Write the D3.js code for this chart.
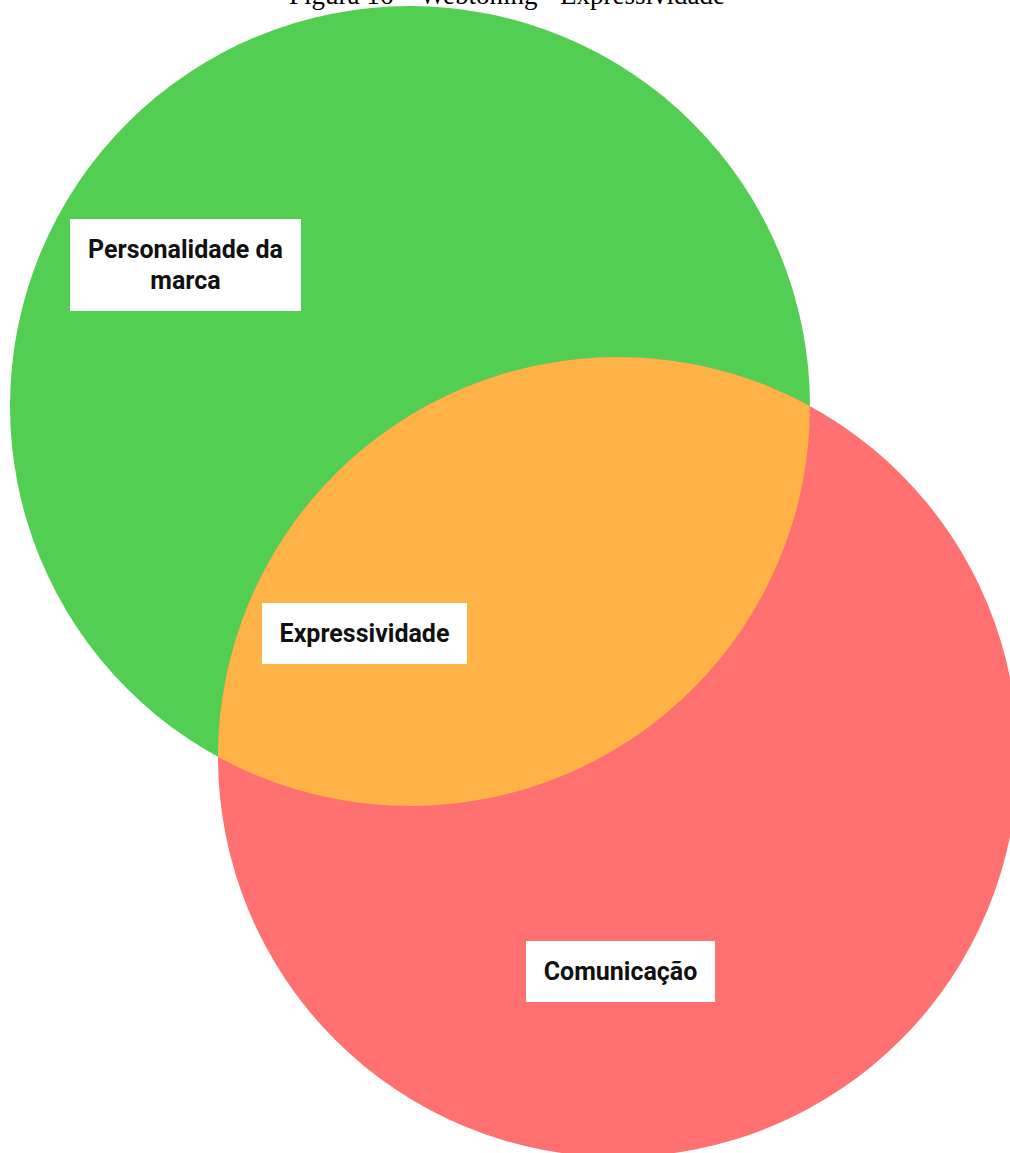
<!DOCTYPE html>
<html><head><meta charset="utf-8">
<script src="https://cdn.jsdelivr.net/npm/d3@7"></script>
<style>body{margin:0;background:#fff}svg{display:block}</style>
</head><body>
<script>
const titleText = "Figura 16 – Webtoning - Expressividade";
const setNames = ["Personalidade da marca", "Comunicação"];
const setColors = ["#52cf52", "#ff7070"];
const overlapName = "Expressividade";
const overlapColor = "#ffb347";
// circle centres in radius units (unit-space layout)
const setCx = [0, 0.52];
const setCy = [0, 0.8775];
const setR = [1, 1];

const W = 1010, H = 1153;
const svg = d3.select("body").append("svg").attr("width", W).attr("height", H);
const x = d3.scaleLinear().domain([0, 1]).range([410, 810]);
const y = d3.scaleLinear().domain([0, 1]).range([406, 806]);
const rs = d3.scaleLinear().domain([0, 1]).range([0, 400]);

svg.append("text").attr("x", 507).attr("y", 4).attr("text-anchor", "middle")
  .attr("font-family", "Liberation Serif, Times New Roman, serif").attr("font-size", 27)
  .attr("fill", "#000").text(titleText);

const circles = setNames.map((n, i) => ({name: n, cx: setCx[i], cy: setCy[i], r: setR[i], color: setColors[i]}));

svg.append("defs").append("clipPath").attr("id", "clipB")
  .append("circle").attr("cx", x(circles[1].cx)).attr("cy", y(circles[1].cy)).attr("r", rs(circles[1].r));

svg.selectAll("circle.set").data(circles).join("circle").attr("class", "set")
  .attr("cx", d => x(d.cx)).attr("cy", d => y(d.cy)).attr("r", d => rs(d.r)).attr("fill", d => d.color);

svg.append("circle").attr("cx", x(circles[0].cx)).attr("cy", y(circles[0].cy)).attr("r", rs(circles[0].r))
  .attr("fill", overlapColor).attr("clip-path", "url(#clipB)");

function label(lines, bx, by, bw, bh, cx, baselines) {
  const g = svg.append("g");
  g.append("rect").attr("x", bx).attr("y", by).attr("width", bw).attr("height", bh).attr("fill", "#fff");
  lines.forEach((t, i) => g.append("text").attr("x", cx).attr("y", baselines[i]).attr("text-anchor", "middle")
    .attr("font-family", "Roboto, sans-serif").attr("font-weight", "bold").attr("font-size", 25).attr("fill", "#111").text(t));
}
label(["Personalidade da", "marca"], 70, 219, 231, 92, 185.5, [258, 289]);
label([overlapName], 262, 603, 205, 61, 364.5, [642]);
label([setNames[1]], 526, 941, 189, 61, 620.5, [980]);
</script>
</body></html>
